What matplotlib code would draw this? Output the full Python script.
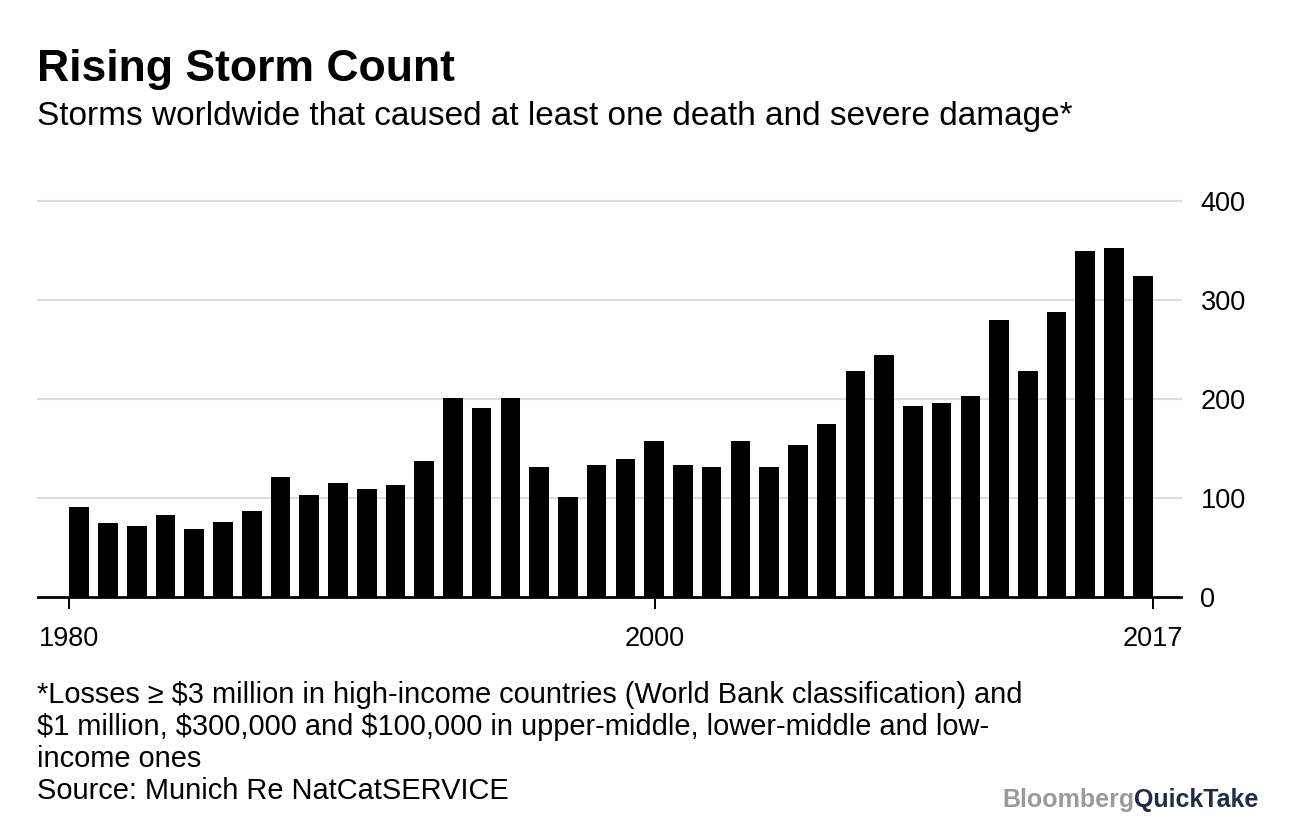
import matplotlib
matplotlib.use("Agg")
import matplotlib.pyplot as plt

plt.rcParams['font.family'] = ['Liberation Sans', 'DejaVu Sans']

# data
years = list(range(1980, 2018))
storms = [91, 75, 72, 83, 69, 76, 87, 121, 103, 115, 109, 113, 137, 201, 191, 201,
          131, 101, 133, 139, 157, 133, 131, 157, 131, 153, 175, 228, 244, 193, 196,
          203, 280, 228, 288, 349, 352, 324]
tick_years = [1980, 2000, 2017]
y_ticks = [0, 100, 200, 300, 400]

W, H = 1296, 832
fig = plt.figure(figsize=(W / 100, H / 100), dpi=100)
ax = fig.add_axes([38 / W, 1 - 597 / H, (1181 - 38) / W, (597 - 195) / H])

bar_w = 0.685
pos = [y - years[0] for y in years]
ax.bar(pos, storms, width=bar_w, align='edge', color='black', zorder=3)

# time-like axis: first tick at left edge of first bar, last at right edge of last bar
span = (years[-1] - years[0]) + bar_w
tick_pos = [(t - years[0]) / (years[-1] - years[0]) * span for t in tick_years]
ax.set_xticks(tick_pos)
ax.set_xticklabels([str(t) for t in tick_years])
ax.set_xlim(-1.09, 38.67)

ax.set_ylim(0, 405.8)
ax.set_yticks(y_ticks)
ax.set_yticklabels([str(v) for v in y_ticks])
ax.yaxis.tick_right()
for lab in ax.get_yticklabels():
    lab.set_horizontalalignment('left')
ax.tick_params(axis='y', length=0, pad=14, labelsize=19.5, colors='black')
ax.tick_params(axis='x', length=8.6, width=1.4, pad=12, labelsize=19.5, colors='black')

for v in y_ticks[1:]:
    ax.axhline(v, color='#dddddd', lw=1.5, zorder=1, clip_on=False)

for s in ['top', 'left', 'right']:
    ax.spines[s].set_visible(False)
ax.spines['bottom'].set_linewidth(2)
ax.spines['bottom'].set_zorder(4)

fig.text(37 / W, 1 - 81 / H, 'Rising Storm Count', fontsize=32, fontweight='bold', va='baseline')
fig.text(37 / W, 1 - 125 / H, 'Storms worldwide that caused at least one death and severe damage*',
         fontsize=24, va='baseline')

notes = ['*Losses \u2265 $3 million in high-income countries (World Bank classification) and',
         '$1 million, $300,000 and $100,000 in upper-middle, lower-middle and low-',
         'income ones',
         'Source: Munich Re NatCatSERVICE']
for i, line in enumerate(notes):
    fig.text(37 / W, 1 - (703 + i * 32) / H, line, fontsize=20.9, va='baseline')

fig.text(1134 / W, 1 - 807 / H, 'Bloomberg', fontsize=18, fontweight='bold', color='#9a9a9a',
         ha='right', va='baseline')
fig.text(1134 / W, 1 - 807 / H, 'QuickTake', fontsize=18, fontweight='bold', color='#232a44',
         ha='left', va='baseline')

fig.savefig('out.png', dpi=100)
